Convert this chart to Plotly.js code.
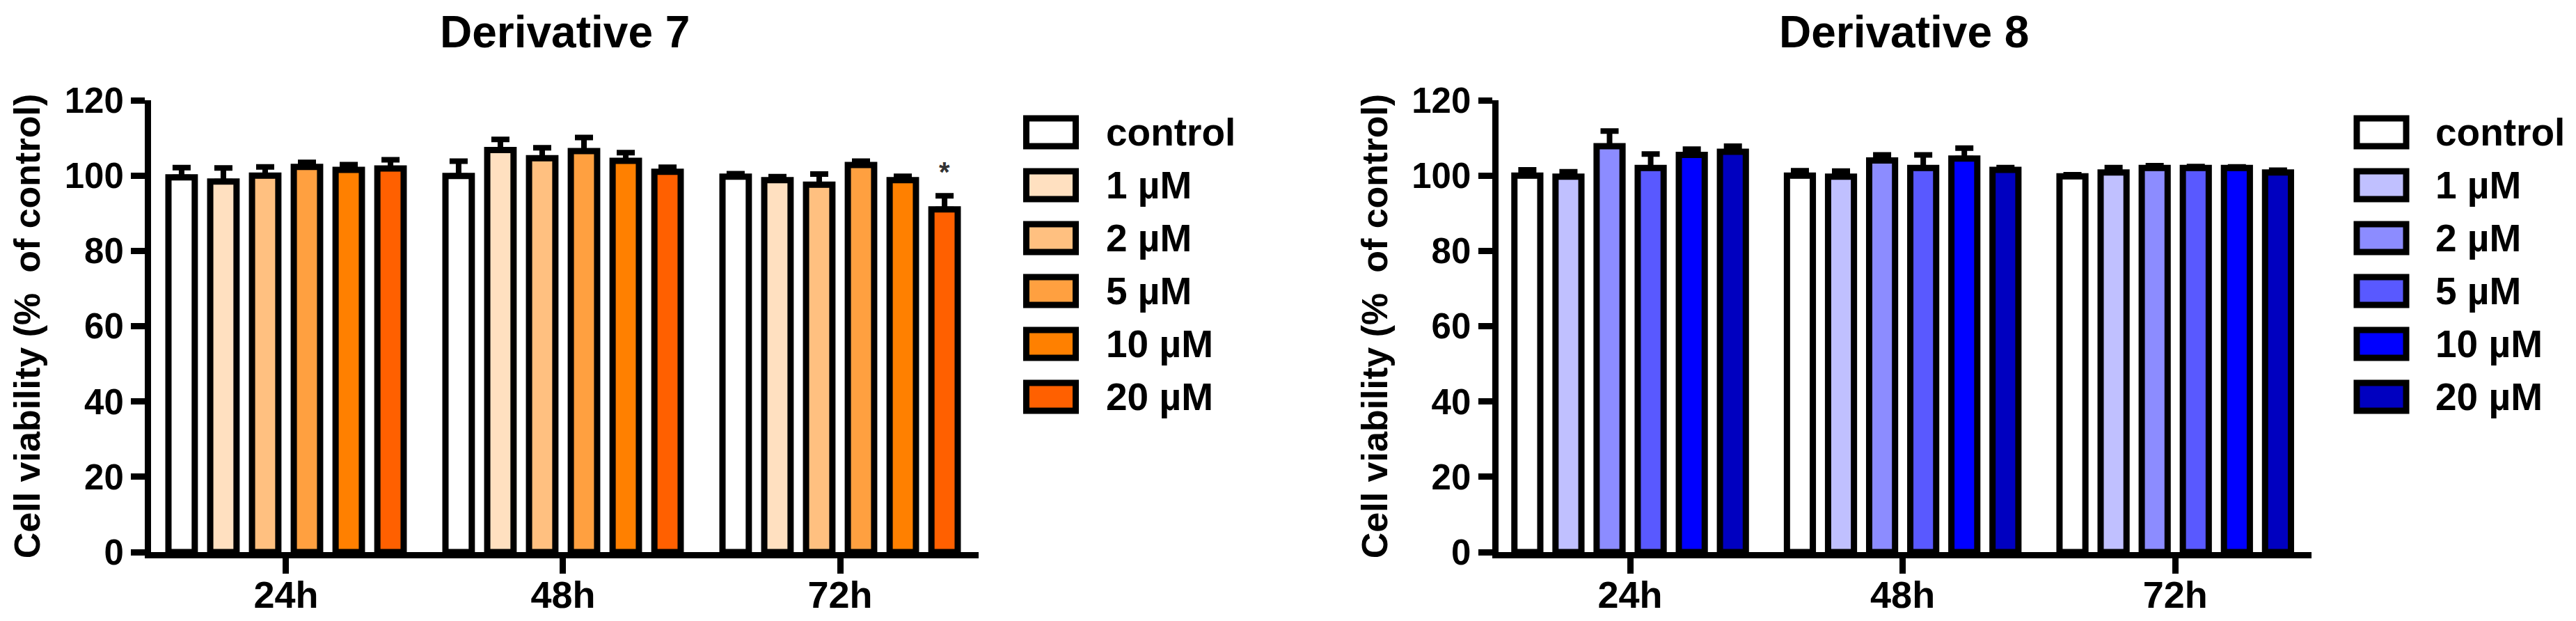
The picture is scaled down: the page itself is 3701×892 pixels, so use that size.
<!DOCTYPE html>
<html>
<head>
<meta charset="utf-8">
<script src="https://cdn.plot.ly/plotly-3.0.1.min.js"></script>
<style>
  body { margin: 0; background: white; }
  #plot { width: 3701px; height: 892px; }
</style>
</head>
<body>
<div id="plot"></div>
<script>
const times = ['24h', '48h', '72h'];
const doses = ['control', '1 µM', '2 µM', '5 µM', '10 µM', '20 µM'];
const orangeColors = ['#FFFFFF', '#FFE0C0', '#FFC080', '#FFA040', '#FF8000', '#FF6000'];
const blueColors = ['#FFFFFF', '#C0C0FF', '#8C8CFF', '#5959FF', '#0000FF', '#0000C0'];

// per dose: values at 24h, 48h, 72h
const d7Mean = [
    [99.5, 99.9, 99.7],
    [98.4, 106.8, 98.8],
    [100.0, 104.6, 97.6],
    [102.3, 106.5, 102.8],
    [101.5, 103.9, 98.8],
    [101.9, 101.0, 91.0]
];
const d7Err = [
    [2.6, 3.9, 0.8],
    [3.6, 2.8, 0.9],
    [2.3, 2.8, 2.8],
    [1.2, 3.6, 1.0],
    [1.4, 2.2, 1.0],
    [2.3, 1.2, 3.6]
];
const d8Mean = [
    [100.0, 100.0, 99.8],
    [99.7, 99.7, 100.8],
    [107.8, 104.0, 102.0],
    [102.0, 102.0, 102.0],
    [105.5, 104.5, 102.0],
    [106.3, 101.5, 100.8]
];
const d8Err = [
    [1.5, 1.3, 0.4],
    [1.3, 1.5, 1.3],
    [4.0, 1.5, 0.6],
    [3.7, 3.5, 0.4],
    [1.5, 2.8, 0.3],
    [1.5, 0.6, 0.6]
];
const yTicks = [0, 20, 40, 60, 80, 100, 120];

const W = 3701, H = 892;
const M = {l: 217, r: 380, t: 144, b: 99};
const px = x => (x - M.l) / (W - M.l - M.r);
const py = y => (H - M.b - y) / (H - M.t - M.b);
const FONT = 'Liberation Sans, Arial, sans-serif';

function makeBars(means, errs, colors, xa, ya) {
    return means.map((m, i) => ({
        type: 'bar',
        x: times,
        y: m,
        name: doses[i],
        xaxis: xa,
        yaxis: ya,
        marker: { color: colors[i], line: { color: 'black', width: 9 } },
        error_y: {
            type: 'data', array: errs[i], arrayminus: errs[i].map(() => 0),
            symmetric: false, color: 'black', thickness: 8, width: 13
        },
        showlegend: false,
        hoverinfo: 'skip'
    }));
}

const data = [
    ...makeBars(d7Mean, d7Err, orangeColors, 'x', 'y'),
    ...makeBars(d8Mean, d8Err, blueColors, 'x2', 'y2')
];

function xAxis(domain, start) {
    return {
        domain: domain,
        type: 'category',
        categoryarray: times,
        range: [start, 2.5],
        showline: true, linecolor: 'black', linewidth: 9,
        ticks: 'outside', ticklen: 22, tickwidth: 9, tickcolor: 'black',
        ticklabelstandoff: -16,
        showgrid: false, zeroline: false,
        tickfont: { family: FONT, size: 54, color: 'black', weight: 'bold' },
        fixedrange: true
    };
}
function yAxis(anchor) {
    return {
        anchor: anchor,
        domain: [0, 1],
        range: [0, 120],
        tickvals: yTicks,
        showline: true, linecolor: 'black', linewidth: 9,
        ticks: 'outside', ticklen: 20, tickwidth: 9, tickcolor: 'black',
        showgrid: false, zeroline: false,
        tickfont: { family: FONT, size: 51, color: 'black', weight: 'bold' },
        title: { text: 'Cell viability (%  of control)', standoff: 22,
                 font: { family: FONT, size: 52, color: 'black', weight: 'bold' } },
        fixedrange: true
    };
}

const shapes = [], annotations = [];
function addLegend(colors, boxL, textL) {
    doses.forEach((d, i) => {
        const cy = 190 + i * 76;
        shapes.push({
            type: 'rect', xref: 'paper', yref: 'paper',
            x0: px(boxL), x1: px(boxL + 71), y0: py(cy + 20), y1: py(cy - 20),
            fillcolor: colors[i], line: { color: 'black', width: 9 }
        });
        annotations.push({
            xref: 'paper', yref: 'paper', x: px(textL), y: py(cy),
            xanchor: 'left', yanchor: 'middle', showarrow: false, text: d,
            font: { family: FONT, size: 55, color: 'black', weight: 'bold' }
        });
    });
}
addLegend(orangeColors, 1474.5, 1587);
addLegend(blueColors, 3386, 3497);

[['Derivative 7', 811], ['Derivative 8', 2735]].forEach(([t, cx]) => {
    annotations.push({
        xref: 'paper', yref: 'paper', x: px(cx), y: py(46),
        xanchor: 'center', yanchor: 'middle', showarrow: false, text: t,
        font: { family: FONT, size: 64, color: 'black', weight: 'bold' }
    });
});

// significance mark on 72h, 20 µM (derivative 7)
annotations.push({
    xref: 'x', yref: 'y', x: 2 + 2.5 * (0.905 / 6), y: d7Mean[5][2] + d7Err[5][2] + 2,
    xanchor: 'center', yanchor: 'bottom', showarrow: false, text: '*',
    font: { family: FONT, size: 40, color: '#333333', weight: 'bold' }
});

const layout = {
    width: W, height: H,
    margin: M,
    paper_bgcolor: 'white', plot_bgcolor: 'white',
    barmode: 'group', bargap: 0.095, bargroupgap: 0.37,
    xaxis: xAxis([0, px(1406)], -0.4874),
    yaxis: yAxis('x'),
    xaxis2: Object.assign(xAxis([px(2152.5), 1], -0.484), { anchor: 'y2' }),
    yaxis2: yAxis('x2'),
    shapes: shapes,
    annotations: annotations,
    showlegend: false
};

Plotly.newPlot('plot', data, layout, { staticPlot: true });
</script>
</body>
</html>
